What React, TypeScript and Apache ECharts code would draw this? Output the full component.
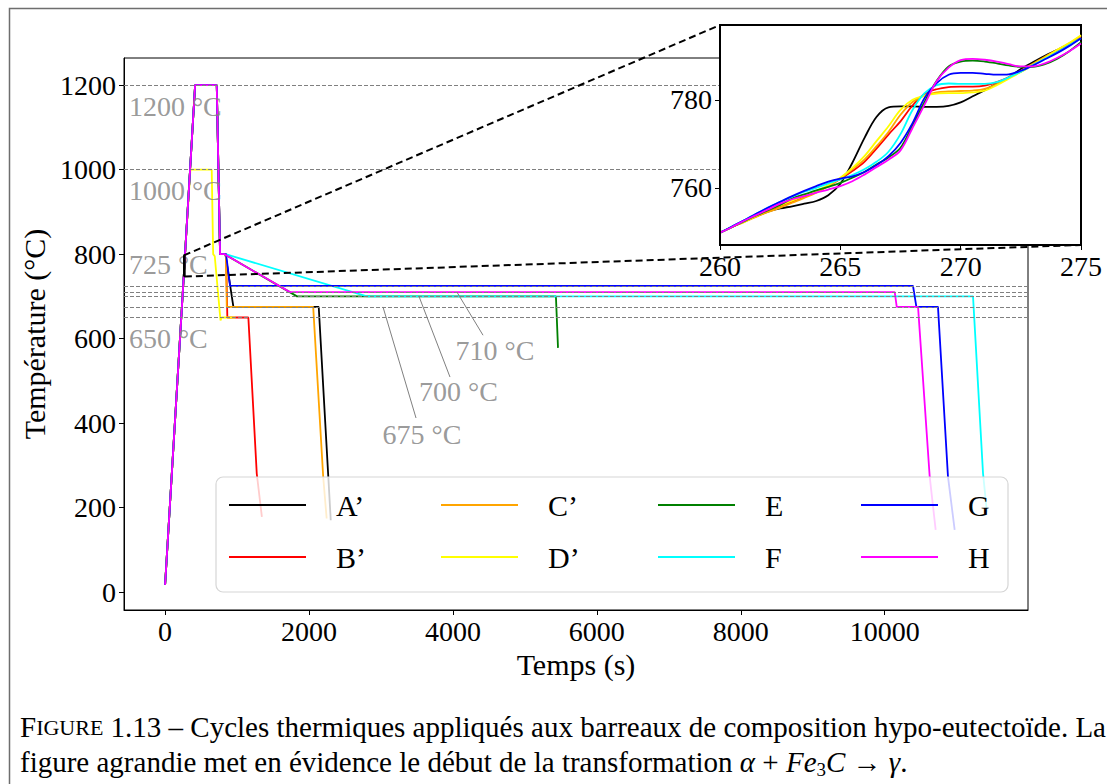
import React, { useEffect, useRef } from "react";
import * as echarts from "echarts";

// ---------- data ----------
const seriesNames = ["A’", "B’", "C’", "D’", "E", "F", "G", "H"];
const seriesColors = ["#000000", "#ff0000", "#ffa500", "#ffff00", "#008000", "#00ffff", "#0000ff", "#ff00ff"];

const timeA = [0, 260, 275, 417, 718, 764, 838, 949, 2135, 2268, 2302];
const tempA = [17, 749.8, 794.4, 1200, 1200, 800, 800, 675, 675, 273, 170];
const timeB = [0, 260, 275, 417, 718, 764, 847, 865, 1157, 1274, 1345];
const tempB = [17, 749.8, 794.2, 1200, 1200, 800, 800, 650, 650, 280, 178];
const timeC = [0, 260, 275, 417, 718, 764, 845, 857, 2058, 2197, 2245];
const tempC = [17, 749.8, 794.5, 1200, 1200, 800, 800, 675, 675, 273, 174];
const timeD = [0, 260, 275, 352, 648, 668, 690, 770, 785, 975];
const tempD = [17, 749.8, 794.7, 1000, 1000, 800, 795, 643, 650, 650];
const timeE = [0, 260, 275, 417, 718, 764, 825, 1833, 5431, 5460];
const tempE = [17, 749.8, 793.1, 1200, 1200, 800, 800, 700, 700, 578];
const timeF = [0, 260, 275, 417, 718, 764, 840, 2805, 11227, 11366, 11420];
const tempF = [17, 749.8, 794.0, 1200, 1200, 800, 800, 700, 700, 281, 190];
const timeG = [0, 260, 275, 417, 718, 764, 847, 903, 10393, 10440, 10740, 10879, 10972];
const tempG = [17, 749.8, 794.0, 1200, 1200, 800, 800, 725, 725, 675, 675, 273, 147];
const timeH = [0, 260, 275, 417, 718, 764, 825, 1736, 10139, 10167, 10463, 10625, 10708];
const tempH = [17, 749.8, 792.8, 1200, 1200, 800, 800, 710, 710, 675, 675, 273, 147];

const insetTime = [260, 260.5, 261, 261.5, 262, 262.5, 263, 263.5, 264, 264.5, 265, 265.5, 266, 266.5, 267, 267.5,
  268, 268.5, 269, 269.5, 270, 270.5, 271, 271.5, 272, 272.5, 273, 273.5, 274, 274.5, 275];
const insetA = [749.8, 751.1, 752.5, 753.6, 754.6, 755.3, 755.8, 756.4, 757.0, 758.3, 760.9, 765.7, 771.3, 776.1, 778.3, 778.5,
  778.5, 778.4, 778.4, 778.6, 779.4, 780.8, 782.2, 783.7, 785.1, 787.0, 788.5, 790.0, 791.3, 792.7, 794.4];
const insetB = [749.8, 751.1, 752.3, 753.5, 754.7, 755.8, 756.8, 757.9, 759.0, 760.4, 762.0, 763.8, 765.9, 768.9, 772.1, 775.1,
  778.7, 781.3, 782.4, 782.9, 783.0, 783.0, 783.2, 784.0, 785.1, 786.4, 787.9, 789.5, 791.0, 792.6, 794.2];
const insetC = [749.8, 751.1, 752.2, 753.4, 754.5, 755.5, 756.6, 757.7, 758.9, 760.4, 762.1, 764.2, 766.4, 769.4, 772.7, 776.6,
  779.5, 781.0, 781.7, 781.9, 782.0, 782.1, 782.5, 783.6, 785.1, 786.6, 788.2, 789.8, 791.3, 792.8, 794.5];
const insetD = [749.8, 751.1, 752.3, 753.6, 754.9, 756.0, 757.1, 758.2, 759.3, 760.6, 762.3, 764.5, 767.2, 770.6, 774.0, 777.7,
  780.0, 780.9, 781.4, 781.5, 781.5, 781.7, 782.1, 783.3, 784.8, 786.3, 787.9, 789.5, 791.3, 792.9, 794.7];
const insetE = [749.8, 751.1, 752.4, 753.7, 754.9, 756.1, 757.6, 758.5, 759.4, 760.2, 761.1, 762.3, 763.6, 765.3, 766.9, 769.1,
  774.2, 779.5, 784.3, 787.6, 788.7, 788.9, 788.7, 788.3, 787.8, 787.5, 787.5, 788.1, 789.3, 791.0, 793.1];
const insetF = [749.8, 751.2, 752.6, 754.1, 755.5, 756.8, 758.0, 759.1, 760.0, 761.0, 761.9, 762.9, 764.2, 765.9, 768.2, 772.2,
  777.7, 781.5, 783.3, 783.7, 783.6, 783.6, 783.6, 784.0, 785.1, 786.4, 787.9, 789.3, 790.8, 792.4, 794.0];
const insetG = [749.8, 751.2, 752.6, 754.1, 755.5, 756.8, 758.1, 759.3, 760.4, 761.4, 762.1, 762.6, 763.6, 765.1, 767.2, 770.2,
  774.7, 780.4, 783.8, 785.7, 786.1, 786.1, 785.9, 785.7, 785.8, 786.6, 787.8, 789.2, 790.6, 792.2, 794.0];
const insetH = [749.8, 751.1, 752.5, 753.8, 755.1, 756.4, 757.4, 758.1, 758.9, 759.6, 760.4, 761.5, 763.0, 764.7, 766.4, 768.5,
  773.6, 778.9, 784.2, 787.3, 789.0, 789.3, 789.1, 788.7, 788.1, 787.6, 787.6, 788.3, 789.5, 791.0, 792.8];

const refTemps = [1200, 1000, 725, 710, 700, 675, 650];
const xTicks = [0, 2000, 4000, 6000, 8000, 10000];
const yTicks = [0, 200, 400, 600, 800, 1000, 1200];
const insetYTicks = [760, 780];
const zoomX = [260, 275];
const zoomY = [747, 797];

const sideLabelText = ["1200 °C", "1000 °C", "725 °C", "650 °C"];
const sideLabelTime = [-510, -510, -510, -510];
const sideLabelTemp = [1150, 950, 775, 600];

const calloutText = ["710 °C", "700 °C", "675 °C"];
const calloutPointTime = [4056, 3528, 3028];
const calloutPointTemp = [710, 700, 675];
const calloutEndTime = [4418, 3959, 3487];
const calloutEndTemp = [608, 509, 412];
const calloutTextTime = [4584, 4077, 3570];
const calloutTextTemp = [573, 474, 372];

const legendColumns = [["A’", "B’"], ["C’", "D’"], ["E", "F"], ["G", "H"]];

const mainTimes = [timeA, timeB, timeC, timeD, timeE, timeF, timeG, timeH];
const mainTemps = [tempA, tempB, tempC, tempD, tempE, tempF, tempG, tempH];
const insetTemps = [insetA, insetB, insetC, insetD, insetE, insetF, insetG, insetH];

export default function App() {
  const ref = useRef<HTMLDivElement>(null);

  useEffect(() => {
    const el = ref.current as HTMLDivElement;
    const chart = echarts.init(el, null, { renderer: "svg" });
    const font = "'Liberation Serif', 'Times New Roman', serif";
    const gray = "#808080";
    const tickSize = 28;
    const plain = (v: number) => String(v);

    const series: any[] = [];

    series.push({
      name: "refs",
      type: "line",
      xAxisIndex: 0,
      yAxisIndex: 0,
      data: [],
      z: 1,
      silent: true,
      markLine: {
        silent: true,
        symbol: ["none", "none"],
        label: { show: false },
        lineStyle: { color: gray, width: 1, type: [4, 2] },
        data: refTemps.map((v) => ({ yAxis: v })),
      },
    });

    seriesNames.forEach((name, i) => {
      series.push({
        name,
        type: "line",
        xAxisIndex: 0,
        yAxisIndex: 0,
        symbol: "none",
        data: mainTimes[i].map((t, k) => [t, mainTemps[i][k]]),
        lineStyle: { color: seriesColors[i], width: 1.8 },
        itemStyle: { color: seriesColors[i] },
        z: 2,
      });
    });

    // zoom box on main chart
    series.push({
      name: "zoombox",
      type: "line",
      xAxisIndex: 0,
      yAxisIndex: 0,
      symbol: "none",
      silent: true,
      data: [
        [zoomX[0], zoomY[0]],
        [zoomX[1], zoomY[0]],
        [zoomX[1], zoomY[1]],
        [zoomX[0], zoomY[1]],
        [zoomX[0], zoomY[0]],
      ],
      lineStyle: { color: "#000", width: 1.6 },
      z: 3,
    });

    // callout leader lines
    calloutText.forEach((_, i) => {
      series.push({
        name: "callout" + i,
        type: "line",
        xAxisIndex: 0,
        yAxisIndex: 0,
        symbol: "none",
        silent: true,
        data: [
          [calloutPointTime[i], calloutPointTemp[i]],
          [calloutEndTime[i], calloutEndTemp[i]],
        ],
        lineStyle: { color: gray, width: 1 },
        z: 2,
      });
    });

    // side labels
    series.push({
      name: "sideLabels",
      type: "scatter",
      xAxisIndex: 0,
      yAxisIndex: 0,
      symbolSize: 1,
      silent: true,
      itemStyle: { color: "rgba(0,0,0,0)" },
      data: sideLabelText.map((t, i) => [sideLabelTime[i], sideLabelTemp[i], t]),
      label: {
        show: true,
        position: "right",
        distance: 0,
        formatter: (p: any) => p.data[2],
        color: gray,
        fontSize: tickSize,
        fontFamily: font,
      },
      z: 2,
    });

    series.push({
      name: "calloutLabels",
      type: "scatter",
      xAxisIndex: 0,
      yAxisIndex: 0,
      symbolSize: 1,
      silent: true,
      itemStyle: { color: "rgba(0,0,0,0)" },
      data: calloutText.map((t, i) => [calloutTextTime[i], calloutTextTemp[i], t]),
      label: {
        show: true,
        position: "inside",
        formatter: (p: any) => p.data[2],
        color: gray,
        fontSize: tickSize,
        fontFamily: font,
      },
      z: 2,
    });

    // inset series
    seriesNames.forEach((name, i) => {
      series.push({
        name,
        type: "line",
        xAxisIndex: 1,
        yAxisIndex: 1,
        symbol: "none",
        smooth: 0.35,
        data: insetTime.map((t, k) => [t, insetTemps[i][k]]),
        lineStyle: { color: seriesColors[i], width: 1.8 },
        itemStyle: { color: seriesColors[i] },
        z: 11,
      });
    });

    const legendLeft = [229, 441, 658, 861];
    const legends = legendColumns.map((col, i) => ({
      orient: "vertical",
      left: legendLeft[i],
      top: 490,
      padding: 0,
      itemGap: 22,
      itemWidth: 77,
      itemHeight: 2,
      icon: "rect",
      selectedMode: false,
      data: col,
      textStyle: { fontSize: 30, fontFamily: font, color: "#000", lineHeight: 30, padding: [0, 0, 0, 25] },
      z: 4,
    }));

    const option: any = {
      animation: false,
      backgroundColor: "#fff",
      textStyle: { fontFamily: font },
      grid: [
        { left: 124, top: 58, width: 904, height: 552, show: true, borderColor: "#000", borderWidth: 1, backgroundColor: "transparent" },
        { left: 720, top: 25, width: 361, height: 220, show: true, borderColor: "#000", borderWidth: 2, backgroundColor: "#fff", z: 10 },
      ],
      xAxis: [
        {
          type: "value",
          gridIndex: 0,
          min: -571,
          max: 11991,
          name: "Temps (s)",
          nameLocation: "middle",
          nameGap: 36,
          nameTextStyle: { fontSize: 30, fontFamily: font, color: "#000" },
          axisLine: { show: true, onZero: false, lineStyle: { color: "#000", width: 1 } },
          axisTick: { show: true, customValues: xTicks, length: 5, lineStyle: { color: "#000" } },
          axisLabel: { customValues: xTicks, formatter: plain, fontSize: tickSize, fontFamily: font, color: "#000", margin: 7 },
          splitLine: { show: false },
        },
        {
          type: "value",
          gridIndex: 1,
          min: zoomX[0],
          max: zoomX[1],
          interval: 5,
          z: 12,
          axisLine: { show: true, onZero: false, lineStyle: { color: "#000", width: 2 } },
          axisTick: { show: true, length: 5, lineStyle: { color: "#000" } },
          axisLabel: { formatter: plain, fontSize: tickSize, fontFamily: font, color: "#000", margin: 7, showMinLabel: true, showMaxLabel: true },
          splitLine: { show: false },
        },
      ],
      yAxis: [
        {
          type: "value",
          gridIndex: 0,
          min: -42.6,
          max: 1264.4,
          name: "Température (°C)",
          nameLocation: "middle",
          nameGap: 63,
          nameRotate: 90,
          nameTextStyle: { fontSize: 30, fontFamily: font, color: "#000" },
          axisLine: { show: true, onZero: false, lineStyle: { color: "#000", width: 1 } },
          axisTick: { show: true, customValues: yTicks, length: 5, lineStyle: { color: "#000" } },
          axisLabel: { customValues: yTicks, formatter: plain, fontSize: tickSize, fontFamily: font, color: "#000", margin: 8 },
          splitLine: { show: false },
        },
        {
          type: "value",
          gridIndex: 1,
          min: zoomY[0],
          max: zoomY[1],
          z: 12,
          axisLine: { show: true, onZero: false, lineStyle: { color: "#000", width: 2 } },
          axisTick: { show: true, customValues: insetYTicks, length: 5, lineStyle: { color: "#000" } },
          axisLabel: { customValues: insetYTicks, formatter: plain, fontSize: tickSize, fontFamily: font, color: "#000", margin: 8 },
          splitLine: { show: false },
        },
      ],
      legend: legends,
      series,
      graphic: [
        {
          id: "frame",
          type: "rect",
          z: 0,
          shape: { x: 9.5, y: 8.5, width: 1300, height: 900 },
          style: { fill: "none", stroke: "#6e6e6e", lineWidth: 1.5 },
          silent: true,
        },
        {
          id: "legendBox",
          type: "rect",
          z: 3,
          shape: { x: 216, y: 477, width: 792, height: 115, r: 7 },
          style: { fill: "rgba(255,255,255,0.8)", stroke: "#d6d6d6", lineWidth: 1.2 },
          silent: true,
        },
        {
          id: "cap1",
          type: "text",
          x: 20,
          y: 727,
          z: 5,
          style: {
            text: "{a|F}{b|IGURE} 1.13 – Cycles thermiques appliqués aux barreaux de composition hypo-eutectoïde. La",
            font: `29px ${font}`,
            fill: "#000",
            verticalAlign: "middle",
            rich: {
              a: { fontSize: 29, fontFamily: font },
              b: { fontSize: 22, fontFamily: font },
            },
          },
          silent: true,
        },
        {
          id: "cap2",
          type: "text",
          x: 20,
          y: 762,
          z: 5,
          style: {
            text: "figure agrandie met en évidence le début de la transformation {i|α} + {i|Fe}{s|3}{i|C} → {i|γ}.",
            font: `29px ${font}`,
            fill: "#000",
            verticalAlign: "middle",
            rich: {
              i: { fontSize: 29, fontStyle: "italic", fontFamily: font },
              s: { fontSize: 19, fontFamily: font, padding: [14, 0, 0, 0] },
            },
          },
          silent: true,
        },
      ],
    };

    chart.setOption(option);

    const p1 = chart.convertToPixel({ xAxisIndex: 0, yAxisIndex: 0 }, [zoomX[0], zoomY[1]]) as number[];
    const q1 = chart.convertToPixel({ xAxisIndex: 1, yAxisIndex: 1 }, [zoomX[0], zoomY[1]]) as number[];
    const p2 = chart.convertToPixel({ xAxisIndex: 0, yAxisIndex: 0 }, [zoomX[1], zoomY[0]]) as number[];
    const q2 = chart.convertToPixel({ xAxisIndex: 1, yAxisIndex: 1 }, [zoomX[1], zoomY[0]]) as number[];

    chart.setOption({
      graphic: [
        {
          id: "conn1",
          type: "line",
          z: 6,
          shape: { x1: p1[0], y1: p1[1], x2: q1[0], y2: q1[1] },
          style: { stroke: "#000", lineWidth: 2, lineDash: [7, 4] },
          silent: true,
        },
        {
          id: "conn2",
          type: "line",
          z: 6,
          shape: { x1: p2[0], y1: p2[1], x2: q2[0], y2: q2[1] },
          style: { stroke: "#000", lineWidth: 2, lineDash: [7, 4] },
          silent: true,
        },
      ],
    });

    return () => {
      chart.dispose();
    };
  }, []);

  return <div ref={ref} style={{ position: "absolute", left: 0, top: 0, width: 1107, height: 784 }} />;
}
